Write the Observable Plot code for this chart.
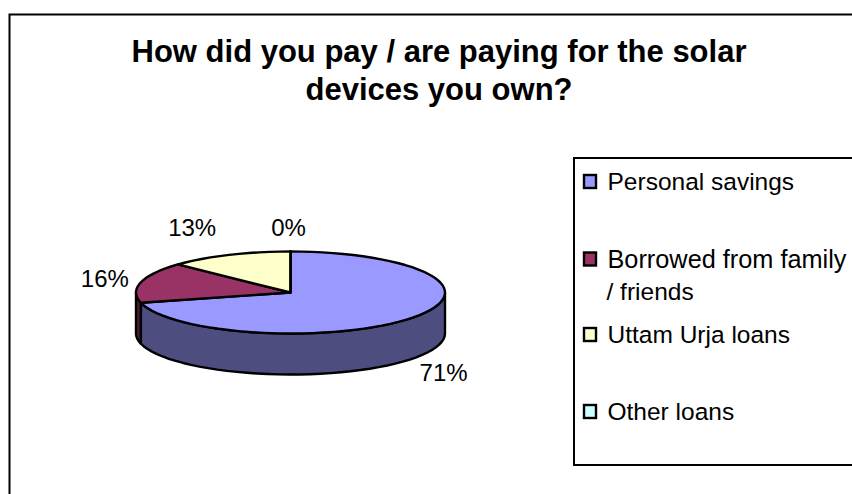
<!DOCTYPE html>
<html>
<head>
<meta charset="utf-8">
<script src="https://cdn.jsdelivr.net/npm/d3@7"></script>
<script src="https://cdn.jsdelivr.net/npm/@observablehq/plot@0.6"></script>
<style>
  html, body { margin: 0; padding: 0; background: #fff; }
  svg { display: block; }
</style>
</head>
<body>
<div id="chart"></div>
<script>
// Funding sources for solar devices
const categories = ["Personal savings", "Borrowed from family", "Uttam Urja loans", "Other loans"];
const shares = [71, 16, 13, 0];
const topColors = ["#9999FF", "#993366", "#FFFFCC", "#CCFFFF"];
const wallColors = ["#4D4D80", "#4D1A33", "#80804D", "#4D8080"];
const titleLines = ["How did you pay / are paying for the solar", "devices you own?"];
const legendLines = [
  ["Personal savings"],
  ["Borrowed from family", "/ friends"],
  ["Uttam Urja loans"],
  ["Other loans"]
];

// Tilted pie geometry, in the units of the x and y scales
const cx = 290, cy = 292, rx = 154.5, ry = 41, depth = 41;
const rim = (deg, drop = 0) => {
  const a = deg * Math.PI / 180;
  return { x: cx + rx * Math.sin(a), y: cy - ry * Math.cos(a) + drop };
};
const arc = (from, to, drop = 0) => {
  const n = Math.max(1, Math.ceil(Math.abs(to - from) / 4));
  return d3.range(n + 1).map(i => rim(from + (to - from) * i / n, drop));
};

// Cumulative angles, clockwise from twelve o'clock
let running = 0;
const slices = categories.map((name, i) => {
  const start = running * 3.6;
  running += shares[i];
  return { name, share: shares[i], start, end: running * 3.6, top: topColors[i], wall: wallColors[i] };
});

// Only the front half of the rim (90° to 270°) shows a side wall
const wallMarks = slices.flatMap(s => {
  const from = Math.max(s.start, 90), to = Math.min(s.end, 270);
  if (to <= from) return [];
  const outline = [...arc(from, to), ...arc(to, from, depth)];
  return [Plot.line(outline, { x: "x", y: "y", curve: "linear-closed", fill: s.wall, stroke: "#000", strokeWidth: 2.4, strokeLinejoin: "round" })];
});

const wedgeMarks = slices.map(s => {
  const outline = [{ x: cx, y: cy }, ...arc(s.start, s.end)];
  return Plot.line(outline, { x: "x", y: "y", curve: "linear-closed", fill: s.top, stroke: "#000", strokeWidth: 2.4, strokeLinejoin: "round" });
});

// Percent labels sit just off the rim at each slice's middle angle
const labelOffsets = [[31, 56], [-36, -3], [-37, -27], [-2, -23]];
const valueLabels = slices.map((s, i) => {
  const p = rim((s.start + s.end) / 2);
  return { x: p.x + labelOffsets[i][0], y: p.y + labelOffsets[i][1], text: `${s.share}%` };
});

// Legend rows: swatch beside the first line of each entry
const legendRowY = [182, 259.5, 335, 412];
const legendRows = categories.map((name, i) => ({ name, y: legendRowY[i], fill: topColors[i] }));
const legendText = legendLines.flatMap((lines, i) =>
  lines.map((text, j) => ({ text, y: legendRowY[i] + j * 32, x: j === 0 ? 607 : 606, size: i === 1 && j === 0 ? 25.3 : 24.5 })));

const fontFamily = "Liberation Sans, Arial, sans-serif";

const plot = Plot.plot({
  width: 852,
  height: 494,
  margin: 0,
  x: { domain: [0, 852], range: [0, 852], axis: null },
  y: { domain: [0, 494], range: [0, 494], axis: null },
  style: { background: "#fff", fontFamily },
  marks: [
    // Chart frame and legend box run off the right edge
    Plot.rect([0], { x1: 9.5, x2: 900, y1: 14.5, y2: 540, fill: "#fff", stroke: "#000", strokeWidth: 2 }),
    Plot.rect([0], { x1: 574, x2: 900, y1: 158, y2: 465, fill: "#fff", stroke: "#000", strokeWidth: 2 }),
    ...wallMarks,
    ...wedgeMarks,
    Plot.text(titleLines, {
      x: 438.5, y: (d, i) => 51.5 + i * 38, text: d => d,
      fontSize: 31, fontWeight: "bold", fill: "#000", textAnchor: "middle", lineAnchor: "middle"
    }),
    Plot.text(valueLabels, {
      x: "x", y: "y", text: "text", fontSize: 24, fill: "#000", textAnchor: "middle", lineAnchor: "middle"
    }),
    Plot.rect(legendRows, {
      x1: 584, x2: 596, y1: d => d.y - 7, y2: d => d.y + 6, fill: "fill", stroke: "#000", strokeWidth: 2.4
    }),
    Plot.text(legendText, {
      x: "x", y: "y", text: "text", fontSize: d => d.size, fill: "#000", textAnchor: "start", lineAnchor: "middle"
    })
  ]
});
document.getElementById("chart").appendChild(plot);
</script>
</body>
</html>
